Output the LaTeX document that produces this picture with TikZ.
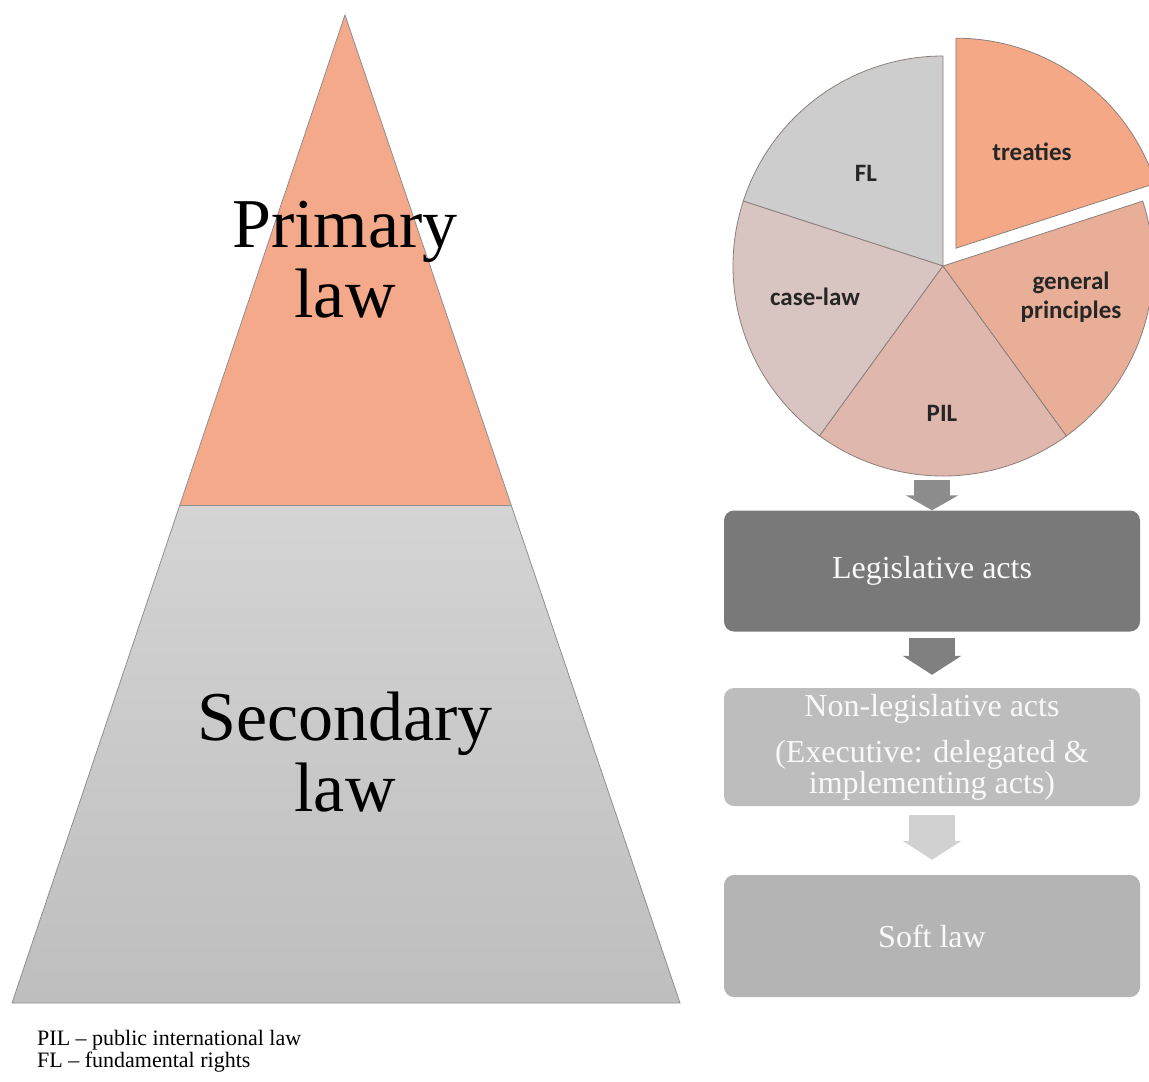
\documentclass[tikz,border=0pt]{standalone}
\usepackage{fontspec}
\setmainfont{Liberation Serif}
\newfontfamily\calibri{Carlito}
\usetikzlibrary{arrows.meta,positioning}

\definecolor{primcol}{HTML}{F4A98A}
\definecolor{seccoltop}{HTML}{D4D4D4}
\definecolor{seccolbot}{HTML}{BEBEBE}
\definecolor{edgecol}{HTML}{8E8E8E}
\definecolor{slicecol}{HTML}{8C807C}
\definecolor{treatycol}{HTML}{F4A886}
\definecolor{gpcol}{HTML}{E8AE98}
\definecolor{pilcol}{HTML}{DFB7AD}
\definecolor{casecol}{HTML}{D8C4C0}
\definecolor{flcol}{HTML}{CDCDCD}
\definecolor{legcol}{HTML}{797979}
\definecolor{nonlegcol}{HTML}{BDBDBD}
\definecolor{softcol}{HTML}{B4B4B4}

\begin{document}
\begin{tikzpicture}[x=1pt,y=-1pt,
    slice/.style={draw=slicecol, line width=0.8pt},
    actbox/.style={rounded corners=10pt, minimum width=416pt, text=white!95!gray,
      font=\fontsize{32}{31}\selectfont, align=center},
    downarrow/.style={line width=46pt, -{Triangle[length=19pt,width=58pt]}},
    smallarrow/.style={line width=36pt, -{Triangle[length=15pt,width=52pt]}},
    pielabel/.style={font=\calibri\bfseries\fontsize{25}{29}\selectfont,
      text=black!85, align=center}]
    \useasboundingbox (0,0) rectangle (1149,1082);

    % Pyramid
    \coordinate (apex) at (345,15);
    \coordinate (bl) at (12,1003);
    \coordinate (br) at (680,1003);
    \coordinate (ml) at (180,505);
    \coordinate (mr) at (511,505);
    \fill[primcol] (apex) -- (mr) -- (ml) -- cycle;
    \shade[top color=seccoltop, bottom color=seccolbot] (ml) -- (mr) -- (br) -- (bl) -- cycle;
    \draw[edgecol, line width=0.8pt] (apex) -- (br) -- (bl) -- cycle;
    \draw[edgecol, line width=0.8pt] (ml) -- (mr);
    \node[font=\fontsize{70}{70}\selectfont, align=center] (primary) at (345,260) {Primary\\law};
    \node[font=\fontsize{70}{71}\selectfont, align=center] (secondary) at (345,752) {Secondary\\law};

    % Pie chart
    \begin{scope}[shift={(943,266)}, yscale=-1]
      \filldraw[slice, fill=flcol] (0,0) -- (90:210) arc[start angle=90, end angle=162, radius=210] -- cycle;
      \filldraw[slice, fill=casecol] (0,0) -- (162:210) arc[start angle=162, end angle=234, radius=210] -- cycle;
      \filldraw[slice, fill=pilcol] (0,0) -- (234:210) arc[start angle=234, end angle=306, radius=210] -- cycle;
      \filldraw[slice, fill=gpcol] (0,0) -- (306:210) arc[start angle=306, end angle=378, radius=210] -- cycle;
      \filldraw[slice, fill=treatycol, shift={(54:22)}] (0,0) -- (18:210) arc[start angle=18, end angle=90, radius=210] -- cycle;
    \end{scope}
    \node[circle, minimum size=420pt, inner sep=0pt] (pie) at (943,266) {};
    \node[pielabel] (treaties) at (1032,152) {treaties};
    \node[pielabel] (fl) at (866,173) {FL};
    \node[pielabel] (caselaw) at (815,297) {case-law};
    \node[pielabel] (genprin) at (1071,297) {general\\principles};
    \node[pielabel] (pil) at (942,413) {PIL};

    % Acts
    \node[actbox, fill=legcol, minimum height=121pt] (legis) at (932,571) {Legislative acts};
    \node[actbox, fill=nonlegcol, minimum height=118pt] (nonlegis) at (932,747)
      {Non-legislative acts\\[15pt](Executive: delegated \&\\implementing acts)};
    \node[actbox, fill=softcol, minimum height=122pt] (soft) at (932,936) {Soft law};

    \draw[smallarrow, black!45, shorten <=4pt] (pie.south -| legis.north) -- (legis.north);
    \draw[downarrow, black!50, shorten <=6pt, shorten >=13pt] (legis.south) -- (nonlegis.north);
    \draw[downarrow, black!18, shorten <=9pt, shorten >=15pt] (nonlegis.south) -- (soft.north);

    % Abbreviations
    \node[anchor=north west, inner sep=0pt, align=left, font=\fontsize{22}{22}\selectfont] (notes)
      at (37,1030) {PIL – public international law\\FL – fundamental rights};
\end{tikzpicture}
\end{document}
